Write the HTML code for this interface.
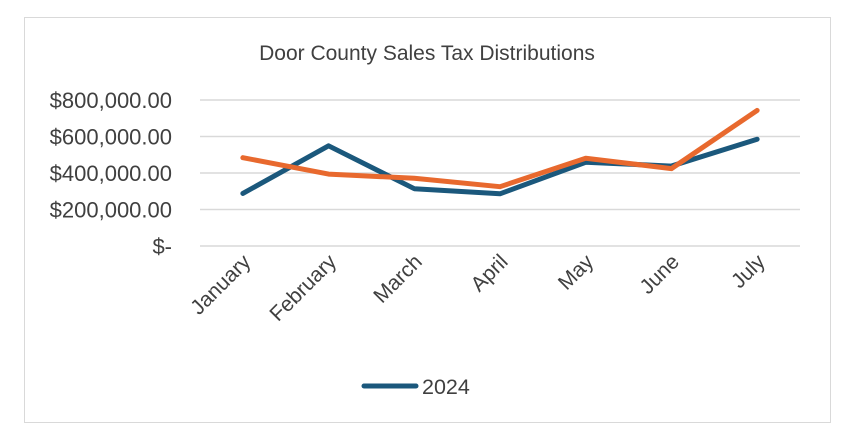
<!DOCTYPE html>
<html><head><meta charset="utf-8"><style>
body{margin:0;background:#fff;font-family:"Liberation Sans",sans-serif;}
svg text{font-family:"Liberation Sans",sans-serif;fill:#404040;}
</style></head><body>
<svg width="854" height="441">
<rect x="24.5" y="17.5" width="806" height="405" fill="#fff" stroke="#d9d9d9"/>
<text x="427" y="60" font-size="21" text-anchor="middle">Door County Sales Tax Distributions</text>
<g id="grid"></g><g id="ylab"></g><g id="xlab"></g><g id="lines"></g>
<line x1="364" y1="386" x2="416" y2="386" stroke="#1b587c" stroke-width="5" stroke-linecap="round"/>
<text x="422" y="394" font-size="21.5">2024</text>
</svg>
<script>
const categories=["January","February","March","April","May","June","July"];
const series2024=[288000,549000,314000,286000,459000,438000,585000];
const seriesOrange=[484000,394000,371000,325000,481000,424000,743000];
const yTicks=[0,200000,400000,600000,800000];
const yTickLabels=["$-","$200,000.00","$400,000.00","$600,000.00","$800,000.00"];
const NS="http://www.w3.org/2000/svg";
const x0=200,x1=800,yb=246,yt=100;
const xs=i=>x0+(x1-x0)/categories.length*(i+0.5);
const ys=v=>yb-(v/800000)*(yb-yt);
function mk(tag,attrs,parent){const e=document.createElementNS(NS,tag);for(const k in attrs)e.setAttribute(k,attrs[k]);document.getElementById(parent).appendChild(e);return e;}
yTicks.forEach((t,i)=>{
 const l=mk('line',{x1:x0,x2:x1,y1:ys(t),y2:ys(t),stroke:'#d9d9d9','stroke-width':1.5},'grid');
 
 
 const tx=mk('text',{x:172,y:ys(t)+8,'font-size':22,'text-anchor':'end'},'ylab');
 tx.textContent=yTickLabels[i];
 
 
});
categories.forEach((c,i)=>{
 const x=xs(i)+9,y=263;
 const tx=mk('text',{x:x,y:y,'font-size':21,'text-anchor':'end',transform:`rotate(-45 ${x} ${y})`},'xlab');
 tx.textContent=c;
 
 
});
function line(data,color,name){
 const p=mk('polyline',{points:data.map((v,i)=>xs(i)+','+ys(v)).join(' '),fill:'none',stroke:color,'stroke-width':5,'stroke-linecap':'round','stroke-linejoin':'round'},'lines');
 
 
}
line(series2024,'#1b587c','series-2024-line');
line(seriesOrange,'#e8692e','series-orange-line');
</script>
</body></html>
